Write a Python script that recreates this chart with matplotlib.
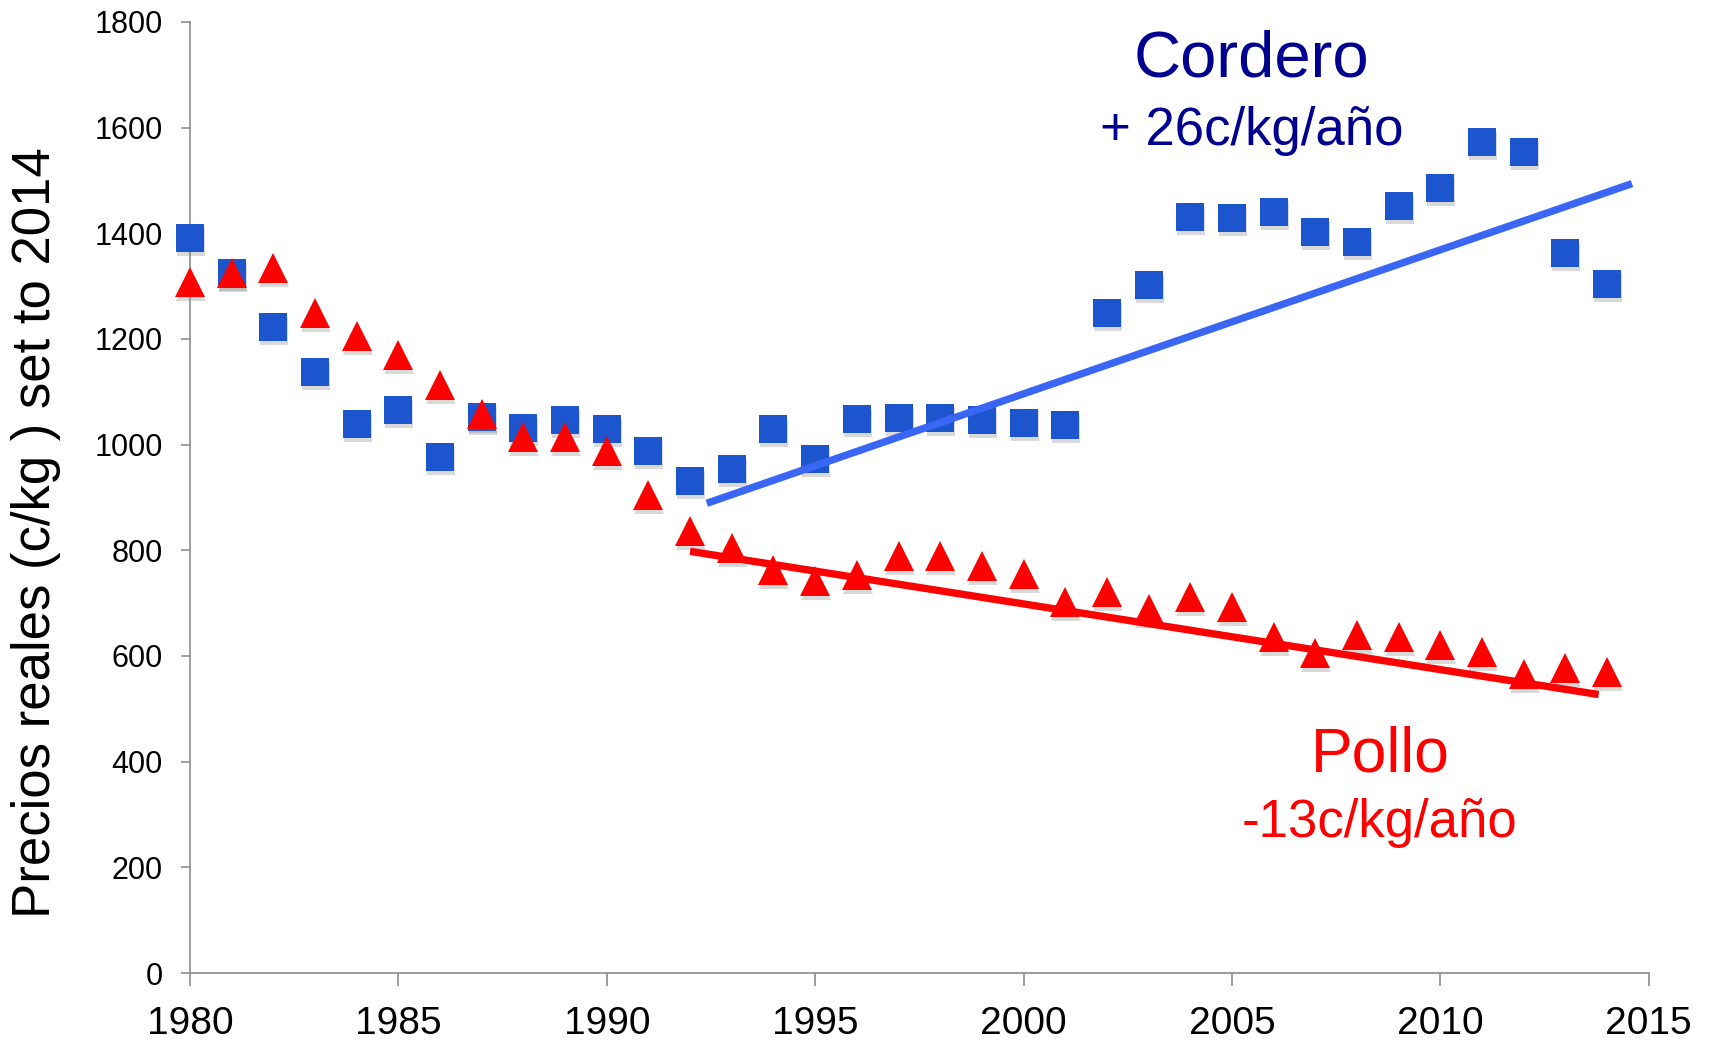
# Real prices of lamb vs chicken, 1980-2014, with trend lines from 1992 on
import matplotlib
matplotlib.use("Agg")
import matplotlib.pyplot as plt
from matplotlib.transforms import offset_copy

plt.rcParams['font.family'] = ['Liberation Sans', 'DejaVu Sans']

years = list(range(1980, 2015))

# Cordero (lamb), c/kg
cordero = [1391, 1325, 1223, 1137, 1039, 1066, 977, 1052, 1031, 1046,
           1029, 988, 932, 953, 1029, 973, 1048, 1050, 1050, 1046,
           1041, 1037, 1250, 1302, 1430, 1428, 1440, 1403, 1383, 1451,
           1486, 1573, 1554, 1362, 1304]

# Pollo (chicken), c/kg
pollo = [1308, 1325, 1335, 1250, 1205, 1170, 1112, 1058, 1015, 1015,
         988, 905, 837, 804, 763, 742, 754, 789, 789, 771,
         756, 703, 721, 688, 711, 692, 636, 605, 640, 636,
         620, 608, 566, 577, 570]

# trend line end points
cordero_trend_x = [1992.4, 2014.6]
cordero_trend_y = [889, 1494]
pollo_trend_x = [1992.0, 2013.8]
pollo_trend_y = [798, 527]

fig = plt.figure(figsize=(17.12, 10.44), dpi=100)
ax = fig.add_axes([0.111, 0.068, 0.852, 0.911])

# soft drop shadow under the markers
shadow = offset_copy(ax.transData, fig=fig, x=1, y=-4, units='dots')
ax.plot(years, cordero, ls='none', marker='s', ms=20.5, color='#555555',
        alpha=0.22, mew=0, transform=shadow, clip_on=False)
ax.plot(years, pollo, ls='none', marker='^', ms=21, color='#555555',
        alpha=0.22, mew=0, transform=shadow, clip_on=False)

ax.plot(years, cordero, ls='none', marker='s', ms=20.5, color='#1d55cf',
        mew=0, clip_on=False, zorder=3)
ax.plot(years, pollo, ls='none', marker='^', ms=21, color='#ff0000',
        mew=0, clip_on=False, zorder=3)

# trend lines
ax.plot(cordero_trend_x, cordero_trend_y, color='#3a66f5', lw=5.3,
        solid_capstyle='butt', zorder=4)
ax.plot(pollo_trend_x, pollo_trend_y, color='#ff0000', lw=5.3,
        solid_capstyle='butt', zorder=4)

ax.set_xlim(1980, 2015)
ax.set_ylim(0, 1800)
ax.set_xticks(range(1980, 2016, 5))
ax.set_yticks(range(0, 1801, 200))

for s in ['top', 'right']:
    ax.spines[s].set_visible(False)
for s in ['left', 'bottom']:
    ax.spines[s].set_color('#8c8c8c')
    ax.spines[s].set_linewidth(1.2)

ax.tick_params(axis='y', length=6.5, width=1.2, color='#8c8c8c',
               labelsize=22, pad=13)
ax.tick_params(axis='x', length=9, width=1.2, color='#8c8c8c',
               labelsize=28, pad=15)

fig.text(0.021, 0.49, 'Precios reales (c/kg ) set to 2014', rotation=90,
         ha='center', va='center', fontsize=38)

# annotations
ax.text(0.731, 0.943, 'Cordero', transform=fig.transFigure, ha='center',
        va='center', fontsize=47, color='#000090')
ax.text(0.731, 0.875, '+ 26c/kg/año', transform=fig.transFigure, ha='center',
        va='center', fontsize=38, color='#000090')
ax.text(0.806, 0.277, 'Pollo', transform=fig.transFigure, ha='center',
        va='center', fontsize=45, color='#ff0000')
ax.text(0.806, 0.212, '-13c/kg/año', transform=fig.transFigure, ha='center',
        va='center', fontsize=38, color='#ff0000')

fig.savefig('out.png', dpi=100)
